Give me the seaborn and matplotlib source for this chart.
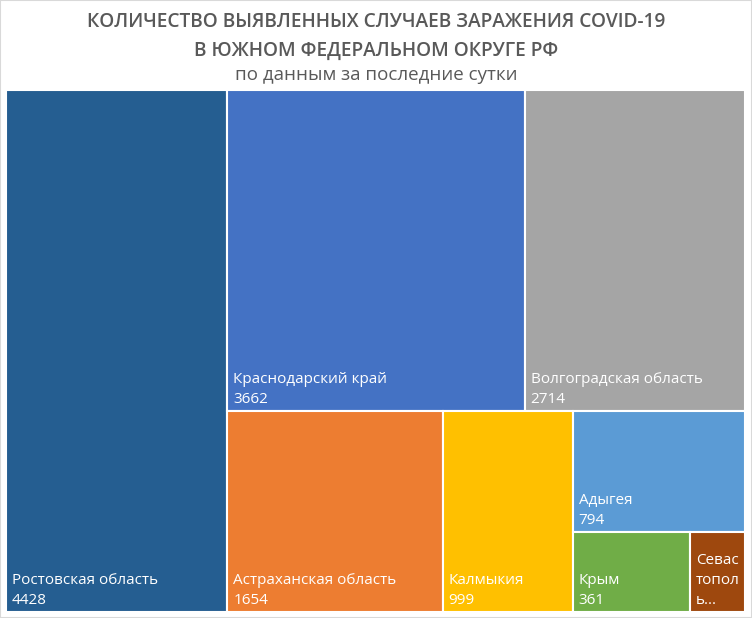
# Treemap: COVID-19 cases in the Southern Federal District (last 24h)
import matplotlib
matplotlib.use("Agg")
import matplotlib.pyplot as plt
import matplotlib.patches as mpatches
import seaborn as sns

# data
regions = ["Ростовская область", "Краснодарский край", "Волгоградская область",
           "Астраханская область", "Калмыкия", "Адыгея", "Крым", "Севастополь"]
cases = [4428, 3662, 2714, 1654, 999, 794, 361, 170]
# label as drawn in the tile (Севастополь does not fit and is wrapped/cut)
tile_labels = ["Ростовская область\n4428", "Краснодарский край\n3662",
               "Волгоградская область\n2714", "Астраханская область\n1654",
               "Калмыкия\n999", "Адыгея\n794", "Крым\n361", "Севас\nтопол\nь..."]
colors = ["#255E91", "#4472C4", "#A5A5A5", "#ED7D31",
          "#FFC000", "#5B9BD5", "#70AD47", "#9E480E"]
# how many tiles go into each strip, in order
strips = [1, 2, 1, 1, 1, 1, 1]

title = "КОЛИЧЕСТВО ВЫЯВЛЕННЫХ СЛУЧАЕВ ЗАРАЖЕНИЯ COVID-19\nВ ЮЖНОМ ФЕДЕРАЛЬНОМ ОКРУГЕ РФ"
subtitle = "по данным за последние сутки"


def layout(values, strips, x, y, w, h):
    """strip layout: each strip is laid along the shorter side of what is left"""
    total = float(sum(values))
    scale = w * h / total
    rects = []
    i = 0
    for n in strips:
        part = values[i:i + n]
        area = sum(part) * scale
        if w >= h:
            sw = area / h
            yy = y
            for v in part:
                hh = v * scale / sw
                rects.append((x, yy, sw, hh))
                yy += hh
            x += sw
            w -= sw
        else:
            sh = area / w
            xx = x
            for v in part:
                ww = v * scale / sh
                rects.append((xx, y, ww, sh))
                xx += ww
            y += sh
            h -= sh
        i += n
    return rects


sns.set_theme(style="white")
plt.rcParams["font.family"] = ["Open Sans", "DejaVu Sans"]

W, H = 739, 522
fig = plt.figure(figsize=(7.52, 6.18), dpi=100)
fig.patch.set_facecolor("white")
ax = fig.add_axes([6 / 752, 6 / 618, W / 752, H / 618])
ax.set_xlim(0, W)
ax.set_ylim(H, 0)
ax.axis("off")

for (rx, ry, rw, rh), lab, c in zip(layout(cases, strips, 0, 0, W, H), tile_labels, colors):
    ax.add_patch(mpatches.Rectangle((rx, ry), rw, rh, facecolor=c,
                                    edgecolor="white", linewidth=1.5))
    ax.annotate(lab, xy=(rx, ry + rh), xytext=(6, 4), textcoords="offset pixels",
                ha="left", va="bottom", color="white", fontsize=11,
                linespacing=1.45)

fig.text(0.5, 1 - 36.5 / 618, title, ha="center", va="center", color="#595959",
         fontsize=13.8, fontweight="semibold", linespacing=1.55)
fig.text(0.5, 1 - 75 / 618, subtitle, ha="center", va="center", color="#595959",
         fontsize=13.5)

# thin frame round the chart
fig.add_artist(mpatches.Rectangle((0, 0), 1, 1, transform=fig.transFigure,
                                  fill=False, edgecolor="#D9D9D9", linewidth=1.5))

plt.savefig("out.png", dpi=100, facecolor="white")
plt.close()
